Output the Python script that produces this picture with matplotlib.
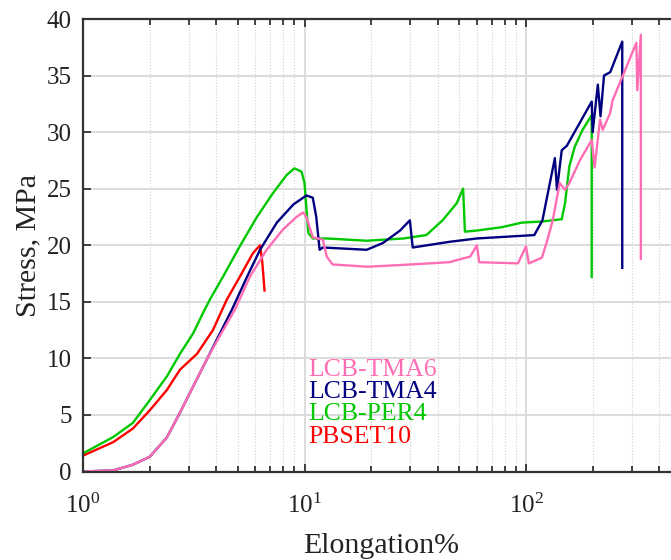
import matplotlib
matplotlib.use("Agg")
import matplotlib.pyplot as plt
from matplotlib.ticker import LogLocator, NullFormatter
import numpy as np

plt.rcParams["font.family"] = ["Liberation Serif", "DejaVu Serif"]
plt.rcParams["mathtext.fontset"] = "stix"

# Elongation % / Stress MPa
red_x = [1.0, 1.37, 1.68, 2.0, 2.39, 2.74, 3.27, 3.86, 4.46, 5.1, 5.85, 6.3,
         6.45, 6.6]
red_y = [1.4, 2.6, 3.8, 5.4, 7.2, 9.0, 10.4, 12.5, 15.2, 17.2, 19.3, 20.0,
         18.5, 16.0]

green_x = [1.0, 1.37, 1.68, 2.0, 2.39, 2.74, 3.14, 3.48, 3.74, 4.28, 5.1, 6.1,
           7.2, 8.3, 9.0, 9.7, 10.0, 10.4, 10.9, 12.6, 19.1, 28, 35.5, 42,
           48.6, 52, 53, 60, 78, 95.8, 118, 145, 150, 157, 166, 180, 198, 198]
green_y = [1.6, 3.05, 4.3, 6.3, 8.4, 10.4, 12.2, 14.0, 15.2, 17.2, 19.9, 22.5,
           24.6, 26.2, 26.8, 26.5, 25.5, 21.1, 20.6, 20.6, 20.4, 20.6, 20.9,
           22.2, 23.7, 25.0, 21.2, 21.3, 21.6, 22.0, 22.1, 22.3, 23.7, 27.0,
           28.7, 30.2, 31.5, 17.2]

navy_x = [1.0, 1.37, 1.68, 2.0, 2.39, 2.74, 3.14, 3.62, 4.15, 4.7, 5.5, 6.3,
          7.5, 8.9, 10.2, 10.9, 11.3, 11.7, 12.1, 19.1, 22.6, 27, 29.9, 30.8,
          45, 60, 109, 118.6, 135, 138, 145, 153, 198, 200, 211, 217, 225,
          240, 272, 272]
navy_y = [0.0, 0.1, 0.6, 1.3, 3.0, 5.2, 7.5, 9.9, 12.2, 14.3, 17.2, 19.6,
          22.0, 23.6, 24.4, 24.2, 22.5, 19.6, 19.8, 19.6, 20.2, 21.3, 22.2,
          19.8, 20.3, 20.6, 20.9, 22.2, 27.7, 24.9, 28.4, 28.8, 32.7, 30.0,
          34.2, 31.4, 35.0, 35.3, 38.0, 18.0]

pink_x = [1.0, 1.37, 1.68, 2.0, 2.39, 2.74, 3.14, 3.62, 4.15, 4.85, 5.66,
          6.75, 8.0, 9.2, 9.85, 10.2, 10.9, 12.1, 12.6, 13.4, 19.3, 30, 45, 56,
          60, 61.5, 92, 100, 103, 118, 125, 132, 142, 150, 157, 175, 198, 204,
          216, 222, 240, 246, 315, 318, 330, 330]
pink_y = [0.0, 0.1, 0.6, 1.3, 3.0, 5.2, 7.5, 9.9, 12.0, 14.3, 17.2, 19.6,
          21.4, 22.5, 22.9, 22.5, 20.7, 20.5, 19.0, 18.3, 18.1, 18.3, 18.5,
          19.0, 20.0, 18.5, 18.4, 19.9, 18.4, 18.9, 20.5, 22.2, 25.5, 24.9,
          25.5, 27.5, 29.3, 26.9, 31.1, 30.2, 31.7, 32.8, 37.9, 33.7, 38.6,
          18.8]

names = ["LCB-TMA6", "LCB-TMA4", "LCB-PER4", "PBSET10"]
colors = ["#ff6eb4", "#000080", "#00c800", "#ff0000"]

fig = plt.figure(figsize=(6.71, 5.6), dpi=100)
ax = fig.add_axes([83 / 671, 88.5 / 560, 597 / 671, 452.5 / 560])

series = [(red_x, red_y, colors[3]), (green_x, green_y, colors[2]),
          (navy_x, navy_y, colors[1]), (pink_x, pink_y, colors[0])]
for xs, ys, c in series:
    ax.plot(xs, ys, color=c, lw=1.7)

ax.set_xscale("log")
ax.set_xlim(1, 10 ** ((680 - 83) / 221.5))
ax.set_ylim(0, 40)
ax.set_yticks(np.arange(0, 41, 5))
ax.xaxis.set_major_locator(LogLocator(base=10, numticks=5))
ax.xaxis.set_minor_locator(LogLocator(base=10, subs=np.arange(2, 10), numticks=20))
ax.xaxis.set_minor_formatter(NullFormatter())

ax.grid(True, which="major", color="#dcdcdc", lw=1.4)
ax.grid(True, which="minor", axis="x", color="#d0d0d0", lw=0.8, ls=":")
ax.set_axisbelow(True)

ax.tick_params(which="both", direction="in", top=True, right=False,
               labelsize=18, colors="#222222", width=1.2)
ax.tick_params(which="major", length=6)
ax.tick_params(which="minor", length=4)
ax.tick_params(axis="x", which="major", pad=16)
ax.tick_params(axis="y", which="major", pad=8)
for side in ["left", "bottom", "top"]:
    ax.spines[side].set_linewidth(1.6)
    ax.spines[side].set_color("#333333")
ax.spines["right"].set_visible(False)

ax.set_xlabel("Elongation%", fontsize=21.5, color="#222222", labelpad=11)
ax.set_ylabel("Stress, MPa", fontsize=21.5, color="#222222", labelpad=4)

for i, (name, c) in enumerate(zip(names, colors)):
    ax.text(0.377, 0.224 - 0.049 * i, name, color=c, fontsize=18.5,
            transform=ax.transAxes, va="center", ha="left")

fig.savefig("out.png", dpi=100)
